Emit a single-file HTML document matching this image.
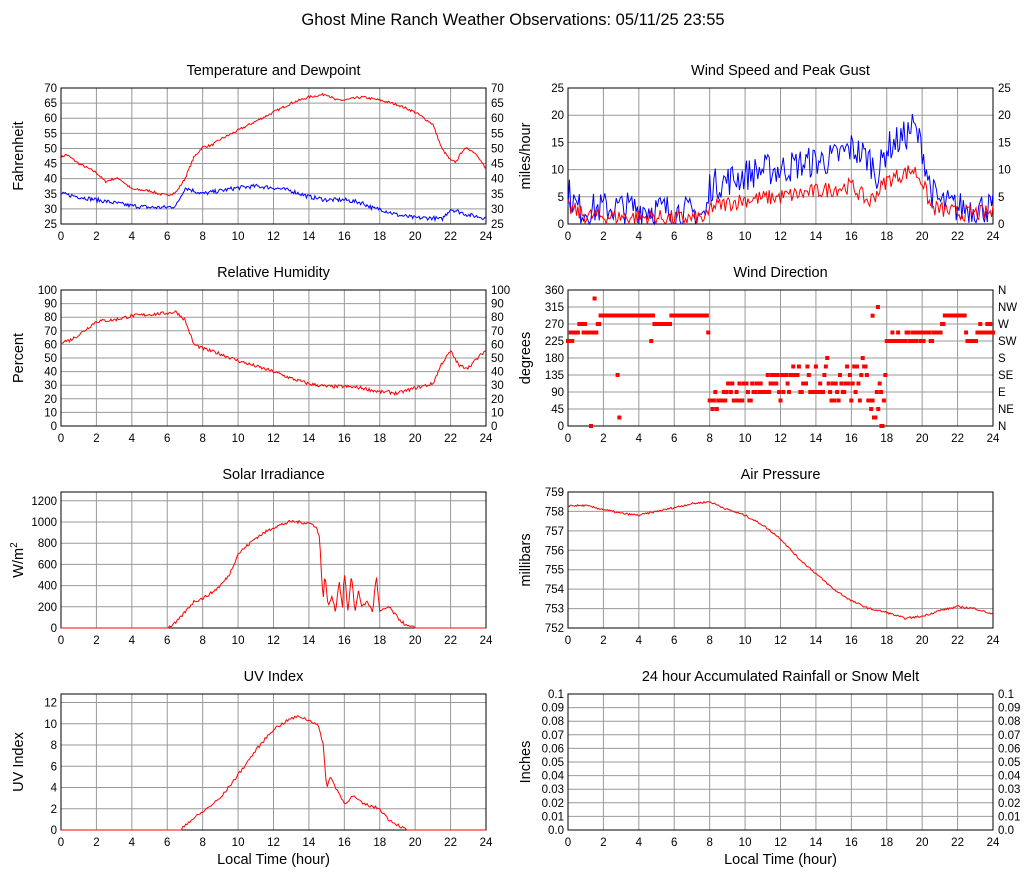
<!DOCTYPE html>
<html><head><meta charset="utf-8"><style>
html,body{margin:0;padding:0;background:#fff}
svg text{font-family:"Liberation Sans",sans-serif;fill:#000}
</style></head><body>
<svg id="s" width="1027" height="878" xmlns="http://www.w3.org/2000/svg"></svg>
<script>
var S=document.getElementById('s'),out='';
var seed=7;function rnd(){seed=(seed*16807)%2147483647;return seed/2147483647;}
function interp(k,h){for(var i=0;i<k.length-1;i++){if(h>=k[i][0]&&h<=k[i+1][0]){var t=(h-k[i][0])/(k[i+1][0]-k[i][0]);return k[i][1]+t*(k[i+1][1]-k[i][1]);}}return k[k.length-1][1];}
function T(x,y,s,sz,anc,extra){out+='<text x="'+x+'" y="'+y+'" font-size="'+sz+'" text-anchor="'+(anc||'start')+'" '+(extra||'')+'>'+s+'</text>';}
function panel(p){
 var x0=p.x,x1=p.x+425,y0=p.y,y1=p.y+136,W=425,H=136;
 p.X=function(h){return x0+h/24*W;};p.Y=function(v){return y1-(v-p.min)/(p.max-p.min)*H;};
 T(x0+W/2,p.y-13,p.title,14.5,'middle');
 for(var h=0;h<=24;h+=2){var xx=p.X(h);if(h>0&&h<24)out+='<line x1="'+xx+'" y1="'+y0+'" x2="'+xx+'" y2="'+y1+'" stroke="#999"/>';T(xx,y1+16,h,11.5,'middle');}
 p.ticks.forEach(function(t,i){var yy=p.Y(t[0]);if(yy>y0+0.5&&yy<y1-0.5)out+='<line x1="'+x0+'" y1="'+yy+'" x2="'+x1+'" y2="'+yy+'" stroke="#999"/>';T(x0-4,yy+4,t[1],11.5,'end');if(p.right)T(x1+5,yy+4,p.right[i],11.5,'start');});
 out+='<rect x="'+x0+'" y="'+y0+'" width="'+W+'" height="'+H+'" fill="none" stroke="#000"/>';
 var cx=x0-38,cy=y0+H/2;
 out+='<text x="'+cx+'" y="'+cy+'" font-size="14.5" text-anchor="middle" transform="rotate(-90 '+cx+' '+cy+')">'+p.ylab+'</text>';
 if(p.xlab)T(x0+W/2,y1+34,'Local Time (hour)',14.5,'middle');
}
function line(p,k,col,noise,n,floor){n=n||400;var d='';for(var i=0;i<=n;i++){var h=i/n*24,b=interp(k,h),v=b+(b===0?0:(rnd()-0.5)*noise);if(floor!==undefined&&v<floor)v=floor;if(v>p.max)v=p.max;d+=(i?'L':'M')+p.X(h).toFixed(1)+','+p.Y(v).toFixed(1);}out+='<path d="'+d+'" fill="none" stroke="'+col+'" stroke-width="1"/>';}
function rng(a,b,s){var r=[];for(var v=a;v<=b+1e-9;v+=s)r.push([v,+v.toFixed(2)]);return r;}
var L=61,R=568;
var p1={x:L,y:88,min:25,max:70,title:'Temperature and Dewpoint',ylab:'Fahrenheit',ticks:rng(25,70,5)};p1.right=p1.ticks.map(function(t){return t[1]});panel(p1);
line(p1,[[0,47],[0.3,48],[1,45],[2,42],[2.5,39],[3,40],[3.3,40],[4,36.5],[5,36],[5.5,35],[6,34.5],[6.5,35.5],[7,40],[7.5,47],[8,50.5],[8.5,51],[9,53],[10,56],[11,59],[12,62],[13,65],[14,67],[15,68],[15.5,66],[16,66],[17,67],[18,66],[19,64.5],[20,62],[21,58],[21.5,50],[22,46],[22.3,45.5],[22.7,49.5],[23,50],[23.5,48],[24,43]],'#f00',0.8);
line(p1,[[0,35],[1,34],[2,33],[3,32],[4,31],[5,30.5],[6,30.5],[6.5,31],[7,37],[7.5,36],[8,35],[9,36],[10,37],[11,37.5],[12,37],[13,36],[14,34],[15,33],[16,33],[17,32],[17.7,30],[18,30],[19,28],[20,27],[21,27],[21.5,26.5],[22,30],[23,28],[24,27]],'#00f',1.4);
var p2={x:R,y:88,min:0,max:25,title:'Wind Speed and Peak Gust',ylab:'miles/hour',ticks:rng(0,25,5)};p2.right=p2.ticks.map(function(t){return t[1]});panel(p2);
line(p2,[[0,6],[0.5,3],[1,2.5],[2,3],[4,3],[6,2.5],[7.8,1.5],[8,7],[10,9],[11,10],[12,10],[13,11],[14,11.5],[15,12],[16,14],[17,12],[17.5,9],[18,14],[19,16],[19.5,18],[20,14],[20.5,6],[21,4],[22,3],[24,3]],'#00f',6,300,0);
line(p2,[[0,3],[1,1.5],[7,1],[7.9,1],[8,3],[10,4.5],[12,5],[14,6],[16,7],[17,4],[18,8],[19.5,10],[20,8],[20.5,3],[22,2],[24,2]],'#f00',3,300,0);
var p3={x:L,y:290,min:0,max:100,title:'Relative Humidity',ylab:'Percent',ticks:rng(0,100,10)};p3.right=p3.ticks.map(function(t){return t[1]});panel(p3);
line(p3,[[0,62],[0.5,63],[1,67],[2,77],[3,78],[4,81],[5,82],[6,83],[6.5,84],[7,78],[7.5,60],[8,57],[9,53],[10,48],[11,44],[12,40],[13,35],[14,31],[15,29],[16,29],[17,28],[18,25],[18.5,25],[19,24],[20,28],[21,31],[21.5,46],[22,55],[22.5,44],[23,43],[24,56]],'#f00',2.5);
var p4={x:R,y:290,min:0,max:360,title:'Wind Direction',ylab:'degrees',ticks:rng(0,360,45),right:['N','NE','E','SE','S','SW','W','NW','N']};panel(p4);
var dk=[[0,225],[0.3,250],[0.8,270],[1,250],[1.6,250],[1.9,292],[4.8,292],[4.85,270],[5.8,270],[5.85,292],[7.9,292],[8,70],[10,90],[14,130],[17,110],[17.8,20],[18,230],[21,245],[21.3,292],[22.4,292],[22.5,225],[23,225],[23.2,250],[24,260]];
for(var i=0;i<=300;i++){var h=i/300*24,v=interp(dk,h);if(h>8&&h<17.8){v+=(rnd()-0.5)*(40+(h-8)*10);}else v+=(rnd()-0.5)*20;v=Math.round(v/22.5)*22.5;if(v<0)v=0;if(v>360)v=360;out+='<rect x="'+(p4.X(h)-2)+'" y="'+(p4.Y(v)-2)+'" width="4" height="4" fill="#f00"/>';}
[[1.3,0],[1.5,337.5],[2.8,135],[2.9,22.5],[4.7,225],[17.5,315],[17.7,0],[17.2,292]].forEach(function(a){out+='<rect x="'+(p4.X(a[0])-2)+'" y="'+(p4.Y(a[1])-2)+'" width="4" height="4" fill="#f00"/>';});
var p5={x:L,y:492,min:0,max:1283,title:'Solar Irradiance',ylab:'W/m<tspan dy="-6" font-size="10">2</tspan>',ticks:rng(0,1200,200)};panel(p5);
line(p5,[[0,0],[6,0],[6.5,50],[7,150],[7.5,250],[8,280],[8.5,330],[9,400],[9.5,500],[10,700],[11,850],[12,950],[13,1005],[14,990],[14.4,960],[14.6,850],[14.8,250],[14.9,500],[15.1,200],[15.3,300],[15.5,150],[15.7,450],[15.9,200],[16,550],[16.2,150],[16.4,500],[16.6,150],[16.8,350],[17,200],[17.3,250],[17.6,150],[17.8,500],[18,150],[18.5,200],[19,100],[19.5,20],[20,0],[24,0]],'#f00',30,400,0);
var p6={x:R,y:492,min:752,max:759,title:'Air Pressure',ylab:'millibars',ticks:rng(752,759,1)};panel(p6);
line(p6,[[0,758.3],[1,758.3],[2,758.1],[3,757.9],[4,757.8],[5,758],[6,758.2],[7,758.4],[8,758.5],[9,758.1],[10,757.8],[11,757.3],[12,756.6],[13,755.6],[14,754.8],[15,754.0],[16,753.4],[17,753.0],[18,752.8],[19,752.5],[20,752.6],[21,752.9],[22,753.1],[23,753.0],[24,752.7]],'#f00',0.1);
var p7={x:L,y:694,min:0,max:12.8,title:'UV Index',ylab:'UV Index',ticks:rng(0,12,2),xlab:1};panel(p7);
line(p7,[[0,0],[6.8,0],[7,0.5],[8,1.7],[9,3],[10,5.2],[11,7.5],[12,9.5],[13,10.5],[13.5,10.7],[14,10.3],[14.5,10],[14.8,8],[15,4],[15.2,5],[16,2.5],[16.5,3.2],[17,2.5],[18,2],[18.5,1],[19,0.5],[19.5,0],[24,0]],'#f00',0.3,300,0);
var p8={x:R,y:694,min:0,max:0.1,title:'24 hour Accumulated Rainfall or Snow Melt',ylab:'Inches',ticks:[[0,'0.0'],[0.01,'0.01'],[0.02,'0.02'],[0.03,'0.03'],[0.04,'0.04'],[0.05,'0.05'],[0.06,'0.06'],[0.07,'0.07'],[0.08,'0.08'],[0.09,'0.09'],[0.1,'0.1']],xlab:1};p8.right=p8.ticks.map(function(t){return t[1]});panel(p8);
T(513,25,'Ghost Mine Ranch Weather Observations: 05/11/25 23:55',16.5,'middle');
S.innerHTML=out;
</script>
</body></html>
